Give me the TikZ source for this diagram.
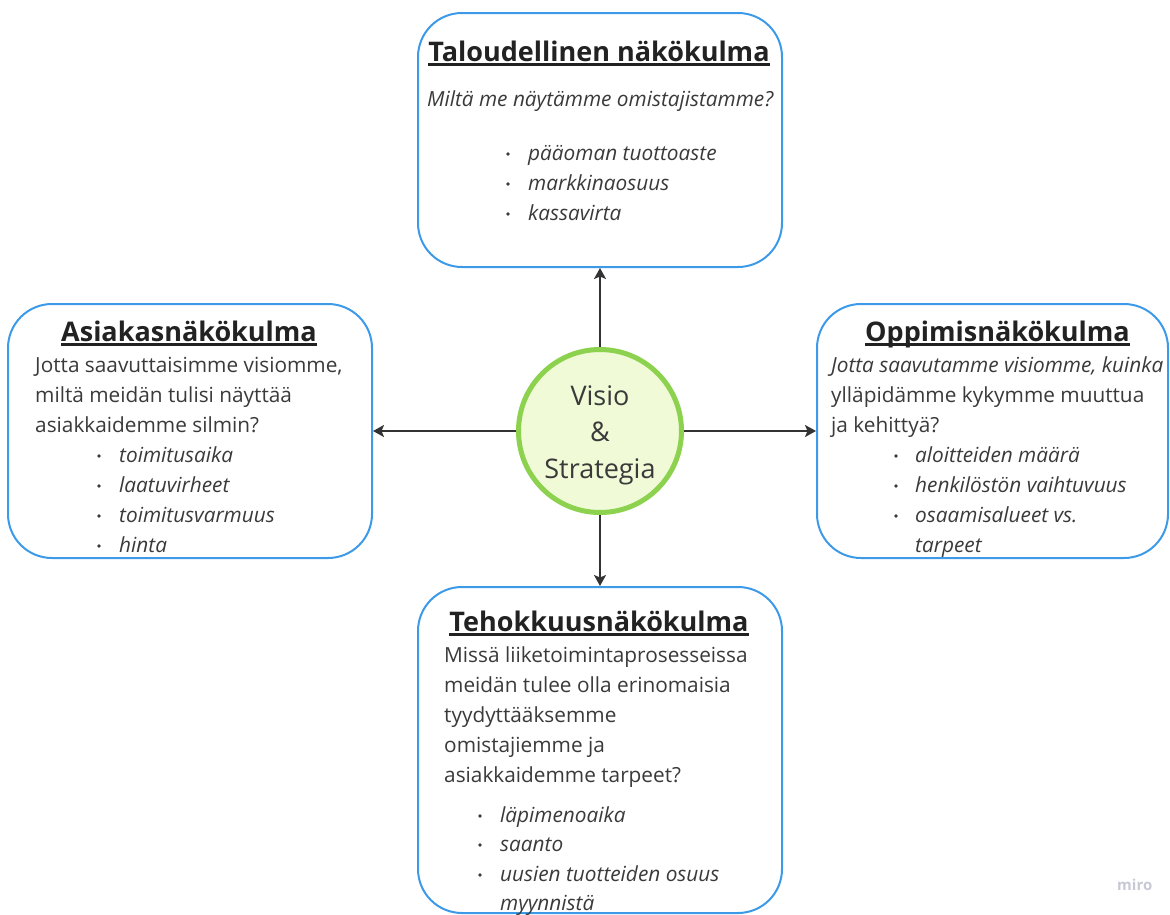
\documentclass[tikz,border=0pt]{standalone}
\usepackage{fontspec}
\setmainfont{Open Sans}
\usetikzlibrary{arrows.meta,calc}
\definecolor{boxblue}{HTML}{3C9AE8}
\definecolor{hubgreen}{HTML}{8CD24E}
\definecolor{hubfill}{HTML}{F0FAD6}
\definecolor{textgray}{HTML}{3A3A3A}
\definecolor{titlegray}{HTML}{222222}
\definecolor{linegray}{HTML}{333333}
\definecolor{markgray}{HTML}{C8C8D6}
\begin{document}
\begin{tikzpicture}[x=1pt,y=-1pt,
  persp/.style={draw=boxblue, line width=2pt, rounded corners=44pt, fill=white, inner sep=0pt},
  hub/.style={circle, draw=hubgreen, line width=5pt, fill=hubfill, minimum size=163pt, inner sep=0pt},
  hubtext/.style={inner sep=0pt, anchor=base, font=\fontsize{27}{30}\selectfont, text=textgray},
  heading/.style={inner sep=0pt, anchor=base, font=\fontsize{27}{30}\selectfont\bfseries, text=titlegray},
  body/.style={inner sep=0pt, anchor=base west, font=\fontsize{20.8}{30}\selectfont, text=textgray},
  item/.style={inner sep=0pt, anchor=base west, font=\fontsize{20.8}{30}\selectfont\itshape, text=textgray},
  dot/.style={circle, fill=textgray, inner sep=0pt, minimum size=3.6pt},
  link/.style={draw=linegray, line width=1.8pt, -{Stealth[length=11pt,width=12pt,inset=2.5pt]}},
  uline/.style={draw=titlegray, line width=2.4pt}
]
\useasboundingbox (0,0) rectangle (1170,914);

% perspective boxes
\node[persp, minimum width=364pt, minimum height=254pt] (fin) at (600,140) {};
\node[persp, minimum width=364pt, minimum height=254pt] (cust) at (190,431) {};
\node[persp, minimum width=351pt, minimum height=254pt] (learn) at (992.5,431) {};
\node[persp, minimum width=364pt, minimum height=326pt] (proc) at (600,750) {};

% centre
\node[hub] (hub) at (600,431) {};
\node[hubtext] (v1) at (600,405) {Visio};
\node[hubtext] (v2) at (600,441.5) {\&};
\node[hubtext] (v3) at (600,478) {Strategia};

% connectors
\draw[link] (hub) -- (fin);
\draw[link] (hub) -- (cust);
\draw[link] (hub) -- (learn);
\draw[link] (hub) -- (proc);

% financial perspective
\node[heading] (t1) at (599,61.5) {Taloudellinen näkökulma};
\draw[uline] ($(t1.base west)+(0,2.8)$) -- ($(t1.base east)+(0,2.8)$);
\node[item] (f0) at (427,106.5) {Miltä me näytämme omistajistamme?};
\foreach \y/\t [count=\i] in {160/pääoman tuottoaste,190/markkinaosuus,220/kassavirta}{
  \node[dot] (fd\i) at (508,\y-6) {};
  \node[item] (f\i) at (528,\y) {\t};
}

% customer perspective
\node[heading] (t2) at (189,341.5) {Asiakasnäkökulma};
\draw[uline] ($(t2.base west)+(0,2.8)$) -- ($(t2.base east)+(0,2.8)$);
\node[body] (c1) at (35,372) {Jotta saavuttaisimme visiomme,};
\node[body] (c2) at (35,402) {miltä meidän tulisi näyttää};
\node[body] (c3) at (35,432) {asiakkaidemme silmin?};
\foreach \y/\t [count=\i] in {462/toimitusaika,492/laatuvirheet,522/toimitusvarmuus,552/hinta}{
  \node[dot] (cd\i) at (99,\y-6) {};
  \node[item] (ci\i) at (119,\y) {\t};
}

% learning perspective
\node[heading] (t3) at (997.5,341.5) {Oppimisnäkökulma};
\draw[uline] ($(t3.base west)+(0,2.8)$) -- ($(t3.base east)+(0,2.8)$);
\node[item] (l1) at (831,372) {Jotta saavutamme visiomme, kuinka};
\node[body] (l2) at (831,402) {ylläpidämme kykymme muuttua};
\node[body] (l3) at (831,432) {ja kehittyä?};
\foreach \y/\t [count=\i] in {462/aloitteiden määrä,492/henkilöstön vaihtuvuus,522/osaamisalueet vs.}{
  \node[dot] (ld\i) at (896,\y-6) {};
  \node[item] (li\i) at (915,\y) {\t};
}
\node[item] (li4) at (915,552) {tarpeet};

% internal process perspective
\node[heading] (t4) at (599,631.5) {Tehokkuusnäkökulma};
\draw[uline] ($(t4.base west)+(0,2.8)$) -- ($(t4.base east)+(0,2.8)$);
\foreach \y/\t [count=\i] in {662/Missä liiketoimintaprosesseissa,692/meidän tulee olla erinomaisia,722/tyydyttääksemme,752/omistajiemme ja,782/asiakkaidemme tarpeet?}{
  \node[body] (p\i) at (444,\y) {\t};
}
\foreach \y/\t [count=\i] in {822/läpimenoaika,851/saanto,881/uusien tuotteiden osuus}{
  \node[dot] (pd\i) at (480,\y-6) {};
  \node[item] (pi\i) at (500,\y) {\t};
}
\node[item] (pi4) at (500,910) {myynnistä};

% watermark
\node[inner sep=0pt, anchor=base west, font=\fontsize{15}{17}\selectfont\bfseries, text=markgray] (mark) at (1117,890) {miro};
\end{tikzpicture}
\end{document}
